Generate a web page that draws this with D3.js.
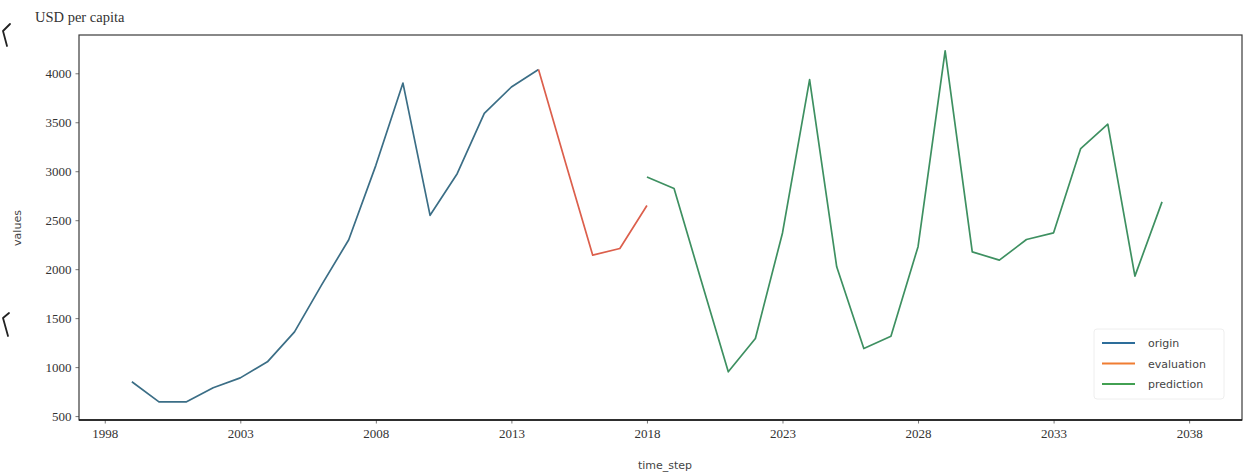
<!DOCTYPE html>
<html>
<head>
<meta charset="utf-8">
<script src="https://cdn.jsdelivr.net/npm/d3@7"></script>
<style>
  html, body { margin: 0; padding: 0; background: #fff; }
  svg { display: block; }
</style>
</head>
<body>
<svg id="chart" width="1246" height="473"></svg>
<script>
// Yearly series: observed history, hold-out evaluation and model forecast
const originYears = [1999, 2000, 2001, 2002, 2003, 2004, 2005, 2006, 2007, 2008, 2009, 2010, 2011, 2012, 2013, 2014];
const originValues = [850, 645, 645, 790, 890, 1054, 1360, 1840, 2300, 3060, 3900, 2550, 2975, 3590, 3860, 4038];

const evalYears = [2014, 2015, 2016, 2017, 2018];
const evalValues = [4038, 3085, 2143, 2211, 2650];

const predYears = [2018, 2019, 2020, 2021, 2022, 2023, 2024, 2025, 2026, 2027, 2028, 2029, 2030, 2031, 2032, 2033, 2034, 2035, 2036, 2037];
const predValues = [2942, 2823, 1885, 952, 1293, 2370, 3935, 2024, 1190, 1316, 2230, 4228, 2177, 2092, 2303, 2371, 3232, 3480, 1929, 2687];

const xTicks = [1998, 2003, 2008, 2013, 2018, 2023, 2028, 2033, 2038];
const yTicks = [500, 1000, 1500, 2000, 2500, 3000, 3500, 4000];

const seriesNames = ["origin", "evaluation", "prediction"];
const lineColors = ["#3b6e86", "#dc5f4c", "#3e9061"];
const legendColors = ["#2d6d9a", "#f07d32", "#42a052"];

const svg = d3.select("#chart");
const margin = { left: 79, right: 4, top: 35, bottom: 53 };
const W = 1246, H = 473;
const plotW = W - margin.left - margin.right;
const plotH = H - margin.top - margin.bottom;

const x = d3.scaleLinear().domain([1997.05, 2039.95]).range([margin.left, margin.left + plotW]);
const y = d3.scaleLinear().domain([460, 4391]).range([margin.top + plotH, margin.top]);

const serif = "'Liberation Serif', 'Times New Roman', serif";
const sans = "'DejaVu Sans', sans-serif";

// title above the axes
svg.append("text")
  .attr("x", 35).attr("y", 22)
  .attr("font-family", serif).attr("font-size", 14.5)
  .attr("fill", "#333")
  .text("USD per capita");

// stray bracket strokes at the left margin
const strokes = [
  [[10, 24], [3, 31], [7, 46]],
  [[9, 313], [3, 318], [8, 336]]
];
svg.selectAll("path.stroke").data(strokes).enter().append("path")
  .attr("class", "stroke")
  .attr("d", d3.line())
  .attr("fill", "none").attr("stroke", "#222").attr("stroke-width", 1.8)
  .attr("stroke-linejoin", "round").attr("stroke-linecap", "round");

// axes
const xAxis = svg.append("g")
  .attr("transform", `translate(0,${margin.top + plotH})`)
  .call(d3.axisBottom(x).tickValues(xTicks).tickFormat(d3.format("d")).tickSize(3.5).tickPadding(5));
const yAxis = svg.append("g")
  .attr("transform", `translate(${margin.left},0)`)
  .call(d3.axisLeft(y).tickValues(yTicks).tickFormat(d3.format("d")).tickSize(3.5).tickPadding(4));

[xAxis, yAxis].forEach(g => {
  g.select(".domain").remove();
  g.selectAll(".tick line").attr("stroke", "#777");
  g.selectAll(".tick text")
    .attr("font-family", serif).attr("font-size", 13).attr("fill", "#333");
});

// frame
svg.append("rect")
  .attr("x", margin.left).attr("y", margin.top)
  .attr("width", plotW).attr("height", plotH)
  .attr("fill", "none").attr("stroke", "#3a3a3a").attr("stroke-width", 1.2);
svg.append("line")
  .attr("x1", margin.left).attr("x2", margin.left + plotW)
  .attr("y1", margin.top + plotH).attr("y2", margin.top + plotH)
  .attr("stroke", "#111").attr("stroke-width", 1.6);

// axis titles
svg.append("text")
  .attr("x", 665).attr("y", 469)
  .attr("text-anchor", "middle")
  .attr("font-family", sans).attr("font-size", 11).attr("fill", "#444")
  .text("time_step");
svg.append("text")
  .attr("transform", `translate(21,228) rotate(-90)`)
  .attr("text-anchor", "middle")
  .attr("font-family", sans).attr("font-size", 11).attr("fill", "#444")
  .text("values");

// series lines
const line = d3.line().x(d => x(d[0])).y(d => y(d[1]));
const series = [
  d3.zip(originYears, originValues),
  d3.zip(evalYears, evalValues),
  d3.zip(predYears, predValues)
];
svg.selectAll("path.series").data(series).enter().append("path")
  .attr("class", "series")
  .attr("d", line)
  .attr("fill", "none")
  .attr("stroke", (d, i) => lineColors[i])
  .attr("stroke-width", 1.7)
  .attr("stroke-linejoin", "round");

// legend
const lg = svg.append("g").attr("transform", "translate(1094,329)");
lg.append("rect")
  .attr("x", 0).attr("y", 0).attr("width", 130).attr("height", 70).attr("rx", 3)
  .attr("fill", "#fff").attr("fill-opacity", 0.8)
  .attr("stroke", "#eee").attr("stroke-width", 1);
seriesNames.forEach((name, i) => {
  const yy = 14 + i * 20.5;
  lg.append("line")
    .attr("x1", 8).attr("x2", 41).attr("y1", yy).attr("y2", yy)
    .attr("stroke", legendColors[i]).attr("stroke-width", 1.8);
  lg.append("text")
    .attr("x", 54).attr("y", yy + 4)
    .attr("font-family", sans).attr("font-size", 11).attr("fill", "#444")
    .text(name);
});
</script>
</body>
</html>
